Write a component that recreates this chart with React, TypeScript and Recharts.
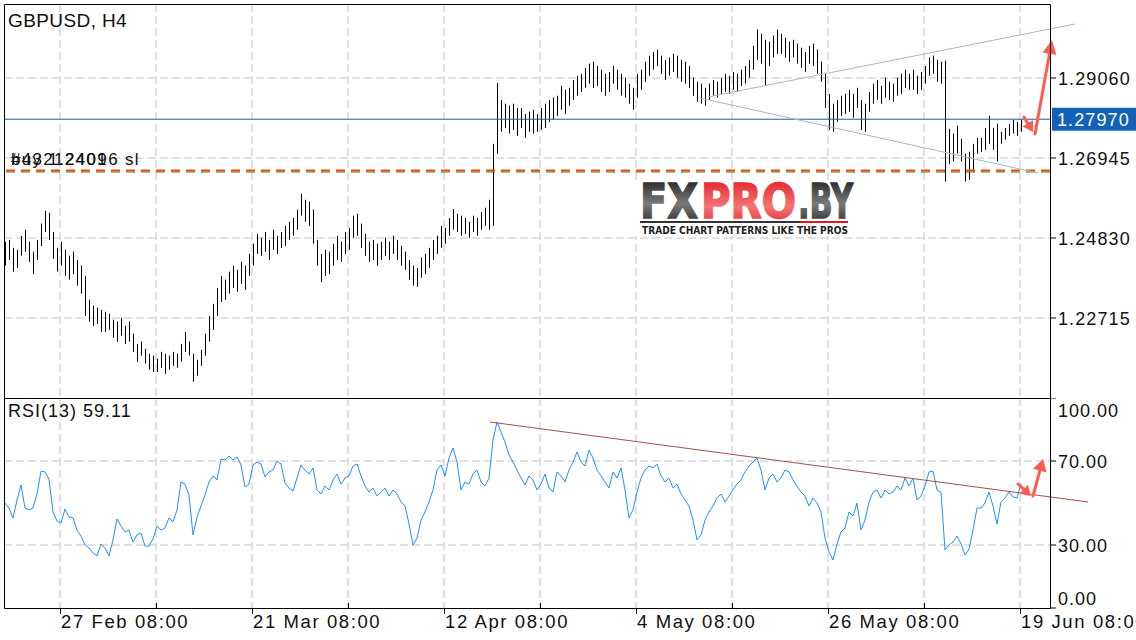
import { Bar, CartesianGrid, ComposedChart, Line, ReferenceLine, XAxis, YAxis } from 'recharts';

// one kept bar per two H4 slots (x axis counts H4 slots, 2px each)
const SLOTS = 523;
const xTicks = [28, 76, 124, 172, 220, 268, 316, 364, 412, 460, 508];
const xTickLabels = ['27 Feb 08:00', '21 Mar 08:00', '12 Apr 08:00', '4 May 08:00', '26 May 08:00', '19 Jun 08:00'];

const priceTicks = [1.22715, 1.2483, 1.26945, 1.2906];
const PRICE_MIN = 1.206;
const PRICE_MAX = 1.310164;
const rsiTicks = [0, 30, 70, 100];

const highs = [
  1.2473, 1.2478, 1.2457, 1.2452, 1.2489, 1.2505, 1.2473, 1.2447, 1.2478, 1.2521,
  1.2555, 1.255, 1.2499, 1.2457, 1.2473, 1.2452, 1.2436, 1.2447, 1.2425, 1.241,
  1.2383, 1.232, 1.2304, 1.2299, 1.2293, 1.2288, 1.2283, 1.2267, 1.2262, 1.2272,
  1.2251, 1.2262, 1.223, 1.2203, 1.2209, 1.219, 1.2177, 1.2172, 1.2164, 1.2182,
  1.2177, 1.2172, 1.2182, 1.2177, 1.2203, 1.2235, 1.2209, 1.2177, 1.2161, 1.2187,
  1.223, 1.2277, 1.2309, 1.2351, 1.2383, 1.2373, 1.2394, 1.241, 1.2399, 1.242,
  1.241, 1.2441, 1.2468, 1.2494, 1.2484, 1.2499, 1.2478, 1.2505, 1.2489, 1.2499,
  1.2515, 1.2526, 1.2536, 1.2558, 1.26, 1.2584, 1.2579, 1.2558, 1.2478, 1.2441,
  1.2452, 1.2447, 1.2468, 1.2489, 1.2473, 1.2499, 1.251, 1.2542, 1.2547, 1.2521,
  1.2494, 1.2473, 1.2478, 1.2468, 1.2473, 1.2484, 1.2473, 1.2489, 1.2478, 1.2462,
  1.2447, 1.2425, 1.241, 1.2404, 1.2431, 1.2441, 1.2457, 1.2478, 1.2489, 1.2515,
  1.251, 1.2536, 1.256, 1.2547, 1.2542, 1.2536, 1.2526, 1.2542, 1.2536, 1.2552,
  1.2563, 1.2584, 1.2732, 1.2893, 1.2848, 1.2838, 1.2833, 1.2838, 1.2827, 1.2827,
  1.2811, 1.2817, 1.2822, 1.2811, 1.2827, 1.2838, 1.2848, 1.2854, 1.2859, 1.2885,
  1.2875, 1.288, 1.2901, 1.2912, 1.2917, 1.2933, 1.2944, 1.2949, 1.2938, 1.2928,
  1.2917, 1.2922, 1.2938, 1.2928, 1.2917, 1.2907, 1.2891, 1.288, 1.2917, 1.2928,
  1.2949, 1.2965, 1.2975, 1.2981, 1.2965, 1.2954, 1.296, 1.297, 1.2965, 1.2954,
  1.2949, 1.2938, 1.2907, 1.2896, 1.2891, 1.288, 1.2891, 1.2901, 1.2896, 1.2907,
  1.2917, 1.2912, 1.2922, 1.2917, 1.2928, 1.2938, 1.2954, 1.2991, 1.3034, 1.3023,
  1.3007, 1.3002, 1.3018, 1.3034, 1.3023, 1.3012, 1.3002, 1.3007, 1.2997, 1.2986,
  1.2975, 1.2991, 1.2997, 1.2981, 1.2949, 1.2917, 1.2864, 1.2838, 1.2848, 1.2859,
  1.2864, 1.2875, 1.2864, 1.288, 1.2848, 1.2838, 1.2869, 1.2891, 1.2901, 1.2885,
  1.2907, 1.2896, 1.2891, 1.2907, 1.2917, 1.2928, 1.2917, 1.2928, 1.2912, 1.2922,
  1.2938, 1.296, 1.2965, 1.2954, 1.2949, 1.2952, 1.2772, 1.2759, 1.278, 1.2745,
  1.2706, 1.2711, 1.2732, 1.2748, 1.2748, 1.2774, 1.2806, 1.2774, 1.2785, 1.2764,
  1.2774, 1.2785, 1.2796, 1.279, 1.2796,
];

const lows = [
  1.241, 1.2425, 1.2394, 1.2404, 1.2436, 1.2447, 1.242, 1.2388, 1.2425, 1.2462,
  1.2499, 1.2478, 1.2428, 1.2394, 1.241, 1.2383, 1.2373, 1.2388, 1.2357, 1.2336,
  1.2277, 1.2262, 1.2251, 1.2256, 1.2235, 1.2235, 1.224, 1.2219, 1.2209, 1.2225,
  1.2203, 1.2209, 1.2182, 1.2156, 1.2172, 1.2151, 1.2135, 1.2129, 1.2129, 1.214,
  1.2124, 1.2135, 1.2145, 1.214, 1.2156, 1.2182, 1.2172, 1.2103, 1.2119, 1.2145,
  1.2172, 1.2209, 1.224, 1.2277, 1.2314, 1.232, 1.2336, 1.2351, 1.2341, 1.2362,
  1.2346, 1.2383, 1.241, 1.2441, 1.2436, 1.2447, 1.2425, 1.2452, 1.2441, 1.2457,
  1.2462, 1.2478, 1.2489, 1.2505, 1.2542, 1.2526, 1.2515, 1.2468, 1.241, 1.2367,
  1.2383, 1.2388, 1.241, 1.2425, 1.242, 1.2441, 1.2452, 1.2484, 1.2489, 1.2457,
  1.2436, 1.242, 1.2425, 1.241, 1.2425, 1.2436, 1.2425, 1.2441, 1.2425, 1.241,
  1.2399, 1.2373, 1.2357, 1.2354, 1.2378, 1.2388, 1.2404, 1.2425, 1.2441, 1.2457,
  1.2468, 1.2489, 1.2505, 1.2499, 1.2489, 1.2494, 1.2484, 1.2499, 1.2489, 1.2505,
  1.2515, 1.2505, 1.2515, 1.2706, 1.2764, 1.2774, 1.2759, 1.2769, 1.2753, 1.2774,
  1.2748, 1.2764, 1.2759, 1.2764, 1.2769, 1.2774, 1.279, 1.2796, 1.2806, 1.2822,
  1.2811, 1.2833, 1.2848, 1.2859, 1.2869, 1.288, 1.2891, 1.288, 1.2885, 1.2869,
  1.2859, 1.2869, 1.2891, 1.2875, 1.2859, 1.2854, 1.2838, 1.2822, 1.2854, 1.2875,
  1.2896, 1.2912, 1.2928, 1.2938, 1.2917, 1.2901, 1.2912, 1.2922, 1.2907, 1.2896,
  1.2891, 1.288, 1.2859, 1.2843, 1.2838, 1.2833, 1.2848, 1.2859, 1.2854, 1.2864,
  1.2869, 1.2864, 1.2875, 1.2869, 1.2885, 1.2891, 1.2907, 1.2928, 1.2954, 1.2944,
  1.2885, 1.2938, 1.296, 1.297, 1.297, 1.296, 1.2949, 1.296, 1.2944, 1.2933,
  1.2922, 1.2944, 1.2938, 1.2917, 1.2896, 1.2827, 1.2769, 1.2764, 1.279, 1.2806,
  1.2811, 1.2817, 1.2801, 1.2827, 1.2769, 1.2764, 1.2817, 1.2838, 1.2848, 1.2838,
  1.2854, 1.2848, 1.2843, 1.2859, 1.2864, 1.288, 1.2875, 1.2875, 1.2864, 1.2875,
  1.2891, 1.2912, 1.2917, 1.2896, 1.2891, 1.2632, 1.2679, 1.2685, 1.2706, 1.2685,
  1.2632, 1.2637, 1.2658, 1.2706, 1.2711, 1.2716, 1.2732, 1.2716, 1.2685, 1.2732,
  1.2743, 1.2753, 1.2759, 1.2753, 1.2764,
];

const rsi = [
  50.0, 47.6, 42.9, 51.4, 58.6, 47.6, 46.7, 47.6, 54.3, 65.2,
  64.8, 61.4, 45.7, 41.4, 40.5, 47.1, 43.3, 42.9, 37.1, 34.3,
  30.0, 28.6, 26.2, 24.8, 30.5, 28.6, 24.8, 32.4, 42.4, 39.0,
  36.2, 37.1, 31.4, 34.8, 35.7, 29.5, 29.5, 32.9, 39.0, 37.1,
  38.1, 42.9, 41.0, 46.7, 60.0, 59.0, 53.8, 34.8, 43.3, 48.6,
  53.8, 60.0, 62.9, 61.0, 71.0, 70.5, 72.4, 70.5, 71.9, 68.1,
  57.6, 59.0, 68.1, 69.5, 68.6, 62.4, 64.8, 65.7, 70.0, 68.6,
  59.5, 57.1, 55.7, 61.9, 68.1, 65.7, 63.8, 66.7, 56.2, 54.3,
  58.1, 56.2, 61.0, 63.8, 59.0, 61.9, 62.9, 67.6, 68.6, 62.9,
  58.1, 55.2, 57.1, 53.3, 55.2, 57.1, 53.3, 56.2, 54.3, 50.5,
  48.6, 40.0, 30.0, 33.3, 41.9, 45.7, 50.5, 56.2, 65.7, 68.1,
  62.9, 71.4, 76.2, 69.5, 56.2, 60.0, 59.0, 63.8, 65.7, 60.0,
  58.1, 61.9, 80.0, 88.6, 83.8, 79.0, 72.9, 69.5, 65.7, 61.9,
  58.6, 62.9, 61.0, 56.2, 59.0, 63.8, 57.1, 55.2, 64.8, 62.9,
  60.0, 65.7, 69.5, 74.3, 69.5, 67.6, 75.2, 71.4, 65.7, 62.9,
  60.0, 57.1, 64.8, 61.9, 66.7, 56.2, 42.9, 46.7, 55.2, 61.9,
  65.7, 67.6, 66.7, 68.6, 62.9, 60.0, 61.9, 57.1, 59.0, 54.3,
  51.4, 48.6, 41.9, 32.4, 34.8, 41.9, 45.7, 48.6, 52.4, 54.3,
  50.5, 53.3, 56.2, 59.0, 61.0, 64.8, 67.6, 69.5, 71.4, 65.7,
  56.2, 61.9, 63.8, 60.0, 61.9, 65.7, 64.8, 61.0, 58.1, 55.2,
  53.3, 48.6, 52.4, 50.0, 45.7, 33.3, 26.7, 22.9, 30.5, 36.2,
  38.1, 45.7, 43.8, 50.0, 37.1, 41.9, 50.5, 55.2, 56.2, 52.4,
  56.2, 54.3, 55.2, 58.1, 56.2, 61.9, 58.1, 61.9, 51.4, 53.3,
  58.1, 64.8, 65.2, 56.2, 55.2, 27.6, 30.0, 31.4, 34.3, 30.5,
  25.2, 28.1, 37.1, 47.6, 47.6, 50.0, 55.2, 48.6, 40.0, 50.5,
  52.4, 55.2, 52.9, 52.4, 59.11,
];

const lastPrice = 1.2797;
const orderPrice = 1.26615;

// annotations, in (slot, price) / (slot, rsi) units
const channelUpper = [{ x: 352, y: 1.28558 }, { x: 535.5, y: 1.30488 }];
const channelLower = [{ x: 348, y: 1.28531 }, { x: 517, y: 1.26548 }];
const priceArrowDown = [{ x: 510, y: 1.28029 }, { x: 514.5, y: 1.27632 }];
const priceArrowUp = [{ x: 515.5, y: 1.2758 }, { x: 524, y: 1.30065 }];
const rsiTrend = [{ x: 243, y: 88.57 }, { x: 542, y: 50.48 }];
const rsiArrowDown = [{ x: 507, y: 59.05 }, { x: 513.5, y: 53.33 }];
const rsiArrowUp = [{ x: 514.5, y: 53.33 }, { x: 519.5, y: 70.95 }];

const bars = highs.map((high, i) => ({ t: 0.5 + 2 * i, range: [lows[i], high], rsi: rsi[i] }));

const INK = '#111';
const GRID = '#c4c4c4';
const ARROW = '#ff5b4f';
const FONT = "'Liberation Sans', Arial, sans-serif";
const label18 = { fontSize: '18px', letterSpacing: '1.1px', fontFamily: FONT };

function HighLowBar(props: any) {
  const { x, y, width, height } = props;
  if (x == null || y == null) return null;
  const cx = x + width / 2;
  const top = Math.min(y, y + height);
  return <rect x={Math.floor(cx)} y={top} width={1} height={Math.max(1, Math.abs(height))} fill="#000" />;
}

function arrow(headLen: number, headHalf: number) {
  return (p: any) => {
    const { x1, y1, x2, y2 } = p;
    const a = Math.atan2(y2 - y1, x2 - x1);
    const bx = x2 - headLen * Math.cos(a);
    const by = y2 - headLen * Math.sin(a);
    const nx = -Math.sin(a) * headHalf;
    const ny = Math.cos(a) * headHalf;
    return (
      <g>
        <line x1={x1} y1={y1} x2={bx} y2={by} stroke={ARROW} strokeWidth={3} strokeLinecap="round" />
        <polygon points={`${x2},${y2} ${bx + nx},${by + ny} ${bx - nx},${by - ny}`} fill={ARROW} />
      </g>
    );
  };
}

function PriceTick({ x, y, payload }: any) {
  return (
    <text x={x} y={y} dy={6.5} fill={INK} style={label18}>
      {Number(payload.value).toFixed(5)}
    </text>
  );
}

function RsiTick({ x, y, payload }: any) {
  const shift = payload.value === 100 ? 12 : payload.value === 0 ? -10 : 0;
  return (
    <text x={x} y={y + shift} dy={6.5} fill={INK} style={{ ...label18, letterSpacing: '1px' }}>
      {Number(payload.value).toFixed(2)}
    </text>
  );
}

function TimeTick({ x, y, payload }: any) {
  const i = xTicks.indexOf(payload.value);
  if (i % 2 === 0) {
    return (
      <g>
        <line x1={x + 0.5} x2={x + 0.5} y1={y} y2={y + 6} stroke="#000" />
        <text x={x + 1} y={y + 20} fill={INK} style={{ ...label18, fontSize: '18.5px', letterSpacing: '1.6px' }}>
          {xTickLabels[i / 2]}
        </text>
      </g>
    );
  }
  return <line x1={x + 0.5} x2={x + 0.5} y1={y - 5} y2={y} stroke="#000" />;
}

function PriceTag({ viewBox }: any) {
  if (!viewBox) return null;
  const left = viewBox.x + viewBox.width + 2;
  return (
    <g>
      <rect x={left} y={viewBox.y - 11.5} width={84} height={23} fill="#1461b8" />
      <text x={left + 5} y={viewBox.y + 6.5} fill="#fff" style={label18}>
        {lastPrice.toFixed(5)}
      </text>
    </g>
  );
}

function Logo() {
  const big = { fontSize: '48px', fontWeight: 900, fontFamily: "'DejaVu Sans', sans-serif" };
  return (
    <g>
      <defs>
        <linearGradient id="lgDark" x1="0" y1="0" x2="0" y2="1">
          <stop offset="0" stopColor="#0e0e0e" />
          <stop offset="0.55" stopColor="#7a7a7a" />
          <stop offset="1" stopColor="#1c1c1c" />
        </linearGradient>
        <linearGradient id="lgRed" x1="0" y1="0" x2="0" y2="1">
          <stop offset="0" stopColor="#e0101a" />
          <stop offset="0.6" stopColor="#f47474" />
          <stop offset="1" stopColor="#e3222b" />
        </linearGradient>
      </defs>
      <rect x={634} y={181} width={228} height={55} fill="#fff" />
      <text x={640} y={218} style={big} fill="url(#lgDark)" stroke="url(#lgDark)" strokeWidth={1.6} textLength={58} lengthAdjust="spacingAndGlyphs">
        FX
      </text>
      <text x={701} y={218} style={big} fill="url(#lgRed)" stroke="url(#lgRed)" strokeWidth={1.6} textLength={95} lengthAdjust="spacingAndGlyphs">
        PRO
      </text>
      <text x={798} y={218} style={big} fill="url(#lgDark)" stroke="url(#lgDark)" strokeWidth={1.6} textLength={55} lengthAdjust="spacingAndGlyphs">
        .BY
      </text>
      <rect x={640} y={221} width={160} height={2} fill="#333" />
      <rect x={800} y={221} width={48} height={2} fill="#e3161e" />
      <text x={642} y={234} fill="#222" style={{ fontSize: '10.5px', fontWeight: 700, fontFamily: "'DejaVu Sans', sans-serif" }} textLength={206} lengthAdjust="spacingAndGlyphs">
        TRADE CHART PATTERNS LIKE THE PROS
      </text>
    </g>
  );
}

export default function App() {
  return (
    <div style={{ position: 'absolute', left: 0, top: 0, width: 1136, height: 640, background: '#fff', fontFamily: FONT }}>
      <div style={{ position: 'absolute', left: 0, top: 0 }}>
        <ComposedChart width={1136} height={399} data={bars} margin={{ top: 4, right: 0, bottom: 1, left: 4 }}>
          <CartesianGrid stroke={GRID} strokeDasharray="8 4" verticalValues={xTicks} horizontalValues={priceTicks} />
          <XAxis type="number" dataKey="t" domain={[0, SLOTS]} allowDataOverflow ticks={xTicks} hide />
          <YAxis
            orientation="right"
            width={86}
            domain={[PRICE_MIN, PRICE_MAX]}
            allowDataOverflow
            ticks={priceTicks}
            interval={0}
            tick={<PriceTick />}
            tickLine={{ stroke: '#000' }}
            axisLine={false}
          />
          <Bar dataKey="range" barSize={2} shape={<HighLowBar />} isAnimationActive={false} />
          <ReferenceLine y={orderPrice - 0.0004} stroke="#1f8a1f" strokeDasharray="9 6" />
          <ReferenceLine y={orderPrice} stroke="#ff4500" strokeWidth={2} strokeDasharray="9 6" />
          <ReferenceLine y={lastPrice} stroke="#1d5c9e" label={<PriceTag />} ifOverflow="visible" />
          <ReferenceLine segment={channelUpper} stroke="#a3b9cb" ifOverflow="visible" />
          <ReferenceLine segment={channelLower} stroke="#a3b9cb" ifOverflow="visible" />
          <ReferenceLine segment={priceArrowDown} ifOverflow="visible" shape={arrow(10, 6)} />
          <ReferenceLine segment={priceArrowUp} ifOverflow="visible" shape={arrow(14, 7)} />
        </ComposedChart>
      </div>
      <div style={{ position: 'absolute', left: 0, top: 398 }}>
        <ComposedChart width={1136} height={242} data={bars} margin={{ top: 0, right: 0, bottom: 0, left: 4 }}>
          <CartesianGrid stroke={GRID} strokeDasharray="8 4" verticalValues={xTicks} horizontalValues={[30, 70]} />
          <XAxis
            type="number"
            dataKey="t"
            domain={[0, SLOTS]}
            allowDataOverflow
            ticks={xTicks}
            interval={0}
            tick={<TimeTick />}
            tickLine={false}
            axisLine={false}
            tickSize={0}
            tickMargin={0}
            height={32}
          />
          <YAxis
            orientation="right"
            width={86}
            domain={[0, 100]}
            allowDataOverflow
            ticks={rsiTicks}
            interval={0}
            tick={<RsiTick />}
            tickLine={{ stroke: '#000' }}
            axisLine={false}
          />
          <Line dataKey="rsi" stroke="#1e90ff" strokeWidth={1} dot={false} isAnimationActive={false} />
          <ReferenceLine segment={rsiTrend} stroke="#a0524d" ifOverflow="visible" />
          <ReferenceLine segment={rsiArrowDown} ifOverflow="visible" shape={arrow(10, 6)} />
          <ReferenceLine segment={rsiArrowUp} ifOverflow="visible" shape={arrow(12, 7)} />
        </ComposedChart>
      </div>
      <svg width={1136} height={640} style={{ position: 'absolute', left: 0, top: 0, pointerEvents: 'none' }}>
        <path d="M4.5 4.5H1050.5V608.5H4.5ZM4.5 398.5H1050.5" fill="none" stroke="#000" />
        <text x={8} y={27} fill={INK} style={{ fontSize: '19px', letterSpacing: '0.4px' }}>GBPUSD, H4</text>
        <text x={11} y={165} fill={INK} style={{ fontSize: '17px', letterSpacing: '1.3px' }}>#43212401</text>
        <text x={11} y={165} fill={INK} style={{ fontSize: '17px', letterSpacing: '1.3px' }}>buy 1.24096 sl</text>
        <text x={8} y={417} fill={INK} style={{ fontSize: '18px', letterSpacing: '1px' }}>
          RSI(13) {rsi[rsi.length - 1].toFixed(2)}
        </text>
        <Logo />
      </svg>
    </div>
  );
}
